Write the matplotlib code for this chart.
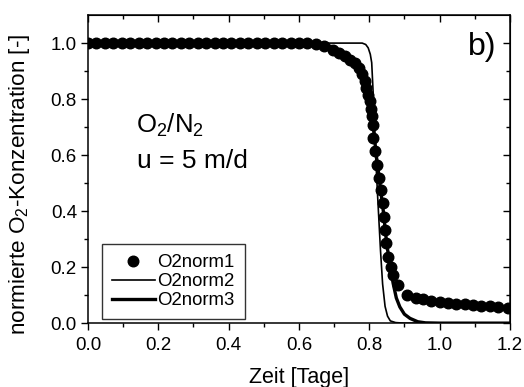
import matplotlib

matplotlib.use("Agg")
import matplotlib.pyplot as plt
import numpy as np

plt.rcParams["font.family"] = ["Liberation Sans", "DejaVu Sans"]
plt.rcParams["mathtext.fontset"] = "custom"
plt.rcParams["mathtext.rm"] = "Liberation Sans"
plt.rcParams["mathtext.it"] = "Liberation Sans:italic"

# measured breakthrough (O2norm1)
t_meas = [0.000, 0.024, 0.048, 0.072, 0.096, 0.120, 0.144, 0.168, 0.192, 0.216,
          0.240, 0.264, 0.288, 0.312, 0.336, 0.360, 0.384, 0.408, 0.432, 0.456,
          0.480, 0.504, 0.528, 0.552, 0.576, 0.600, 0.624, 0.648, 0.672, 0.698,
          0.715, 0.731, 0.745, 0.759, 0.772, 0.780, 0.788, 0.792, 0.797, 0.802,
          0.805, 0.808, 0.810, 0.812, 0.817, 0.822, 0.828, 0.834, 0.838, 0.843,
          0.845, 0.849, 0.854, 0.861, 0.868, 0.882, 0.908, 0.933, 0.953, 0.977,
          1.001, 1.024, 1.048, 1.072, 1.096, 1.119, 1.143, 1.167, 1.195]
c_meas = [1.000, 1.000, 1.000, 1.000, 1.000, 1.000, 1.000, 1.000, 1.000, 1.000,
          1.000, 1.000, 1.000, 1.000, 1.000, 1.000, 1.000, 1.000, 1.000, 1.000,
          1.000, 1.000, 1.000, 1.000, 1.000, 1.000, 0.999, 0.995, 0.991, 0.977,
          0.965, 0.953, 0.941, 0.929, 0.912, 0.888, 0.864, 0.840, 0.816, 0.792,
          0.765, 0.738, 0.709, 0.661, 0.613, 0.566, 0.518, 0.476, 0.428, 0.380,
          0.333, 0.285, 0.237, 0.202, 0.172, 0.136, 0.100, 0.090, 0.085, 0.080,
          0.076, 0.073, 0.070, 0.068, 0.066, 0.062, 0.060, 0.058, 0.053]

# model 2 (thin line)
t_mod2 = [0.0, 0.70, 0.78, 0.790, 0.797, 0.803, 0.807, 0.812, 0.818, 0.824,
          0.832, 0.838, 0.845, 0.852, 0.860, 0.875, 0.900, 1.2]
c_mod2 = [1.0, 1.0, 1.0, 0.995, 0.983, 0.960, 0.930, 0.800, 0.600, 0.450,
          0.260, 0.140, 0.060, 0.025, 0.008, 0.002, 0.0, 0.0]

# model 3 (thick line)
t_mod3 = [0.0, 0.66, 0.70, 0.74, 0.77, 0.79, 0.80, 0.81, 0.82, 0.83, 0.84,
          0.85, 0.86, 0.868, 0.877, 0.887, 0.900, 0.916, 0.938, 0.960, 1.0, 1.2]
c_mod3 = [1.0, 1.0, 0.985, 0.955, 0.920, 0.850, 0.800, 0.720, 0.600, 0.500,
          0.400, 0.280, 0.200, 0.142, 0.090, 0.058, 0.032, 0.017, 0.005, 0.001,
          0.0, 0.0]

fig = plt.figure(figsize=(5.24, 3.87), dpi=100)
ax = fig.add_axes([0.168, 0.165, 0.805, 0.796])

ax.plot(t_meas, c_meas, "o", color="black", markersize=7.6, label="O2norm1")
ax.plot(t_mod2, c_mod2, "-", color="black", linewidth=1.2, label="O2norm2")
ax.plot(t_mod3, c_mod3, "-", color="black", linewidth=2.4, label="O2norm3")

ax.set_xlim(0, 1.2)
ax.set_ylim(0, 1.1)
major_x = np.arange(0, 1.21, 0.2)
minor_x = np.arange(0.1, 1.2, 0.2)
major_y = np.arange(0, 1.01, 0.2)
minor_y = np.arange(0.1, 1.1, 0.2)
ax.set_xticks(major_x)
ax.set_yticks(major_y)
ax.set_xticks(minor_x, minor=True)
ax.set_yticks(minor_y, minor=True)
ax.xaxis.set_major_formatter(plt.FormatStrFormatter("%.1f"))
ax.yaxis.set_major_formatter(plt.FormatStrFormatter("%.1f"))
ax.tick_params(which="both", direction="out", labelsize=13.5, width=1)
ax.tick_params(axis="x", pad=5)
ax.tick_params(axis="y", pad=3)
ax.tick_params(which="major", length=5)
ax.tick_params(which="minor", length=3)

# mirrored axes on top/right with inward ticks
axt = ax.secondary_xaxis("top")
axt.set_xticks(major_x)
axt.set_xticks(minor_x, minor=True)
axt.tick_params(which="both", direction="in", labeltop=False, width=1)
axt.tick_params(which="major", length=5)
axt.tick_params(which="minor", length=3)
axr = ax.secondary_yaxis("right")
axr.set_yticks(major_y)
axr.set_yticks(minor_y, minor=True)
axr.tick_params(which="both", direction="in", labelright=False, width=1)
axr.tick_params(which="major", length=5)
axr.tick_params(which="minor", length=3)

for sp in ax.spines.values():
    sp.set_linewidth(1.1)

ax.set_xlabel("Zeit [Tage]", fontsize=15.5, labelpad=9)
ax.set_ylabel("normierte O$_2$-Konzentration [-]", fontsize=16.2)
ax.yaxis.set_label_coords(-0.134, 0.45)

ax.text(0.137, 0.68, "O$_2$/N$_2$", fontsize=18.5)
ax.text(0.139, 0.555, "u = 5 m/d", fontsize=19)
ax.text(1.163, 0.957, "b)", fontsize=23, ha="right", va="baseline")

leg = ax.legend(loc="lower left", bbox_to_anchor=(0.032, 0.012), fontsize=13.4,
                frameon=True, fancybox=False, edgecolor="black",
                handlelength=2.3, handletextpad=0.15, borderpad=0.55,
                labelspacing=0.1, borderaxespad=0)
leg.get_frame().set_linewidth(1)

fig.savefig("out.png", dpi=100)
